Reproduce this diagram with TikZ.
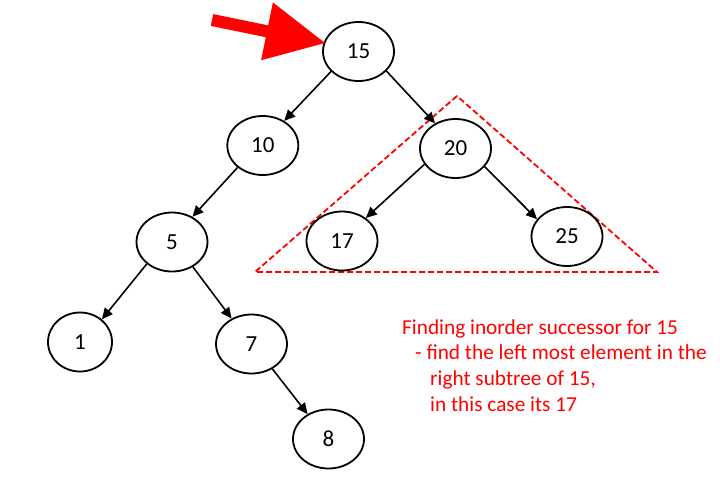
\documentclass[tikz,border=0pt]{standalone}
\usepackage{fontspec}
\setmainfont{Carlito}
\usetikzlibrary{arrows.meta,shapes.geometric}
\begin{document}
\begin{tikzpicture}[x=1pt,y=-1pt,
  bnode/.style={draw=black,line width=1.8pt,ellipse,minimum width=71pt,minimum height=59pt,inner sep=0pt,font=\fontsize{23}{27}\selectfont},
  edge/.style={line width=1.6pt,-{Triangle[length=11pt,width=10pt]}},
  note/.style={anchor=base west,text=red,inner sep=0pt,font=\fontsize{21.3}{25}\selectfont}]
\useasboundingbox (0,0) rectangle (720,477);
% red dashed triangle
\coordinate (tA) at (457,96);
\coordinate (tB) at (255,272);
\coordinate (tC) at (657,272);
\draw[red,line width=1.8pt,dash pattern=on 6pt off 3pt] (tA) -- (tB) -- (tC) -- cycle;
% nodes
\node[bnode] (n15) at (358.5,51.5) {15};
\node[bnode] (n10) at (262.8,145.5) {10};
\node[bnode] (n20) at (455.5,148.5) {20};
\node[bnode] (n5) at (172,242) {5};
\node[bnode] (n17) at (342,241) {17};
\node[bnode] (n25) at (567,236.5) {25};
\node[bnode,minimum width=64pt] (n1) at (80,342) {1};
\node[bnode] (n7) at (251.5,344) {7};
\node[bnode] (n8) at (328.5,439) {8};
% edges
\draw[edge] (n15.216) -- (n10.49);
\draw[edge] (n15.325) -- (n20.129);
\draw[edge] (n10.221) -- (n5.51);
\draw[edge] (n20.207) -- (n17.44);
\draw[edge] (n20.328) -- (n25.150);
\draw[edge] (n5.221) -- (n1.46);
\draw[edge] (n5.310) -- (n7.128);
\draw[edge] (n7.310) -- (n8.130);
% big red arrow
\fill[red] (213.2,14.1) -- (268.2,25.4) -- (272.9,2.4) -- (325,43) -- (261.1,60.2) -- (265.8,37.2) -- (210.8,25.9) -- cycle;
% note text
\node[note] (l1) at (402,334) {Finding inorder successor for 15};
\node[note] (l2) at (415,359.5) {- find the left most element in the};
\node[note] (l3) at (430,385) {right subtree of 15,};
\node[note] (l4) at (430,411) {in this case its 17};
\end{tikzpicture}
\end{document}
